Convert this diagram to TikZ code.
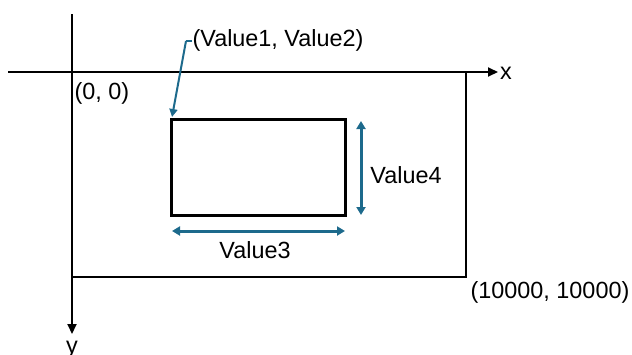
\documentclass[tikz,border=0pt]{standalone}
\usepackage{fontspec}
\setmainfont{Liberation Sans}
\usetikzlibrary{arrows.meta}
\definecolor{dimblue}{HTML}{1D6A8C}
\begin{document}
\begin{tikzpicture}[x=0.5pt,y=-0.5pt,
  lbl/.style={font=\fontsize{11.7}{14}\selectfont, inner sep=0pt},
  axisline/.style={line width=1pt,-{Triangle[length=5pt,width=4.5pt]}},
  dimline/.style={dimblue,line width=1.5pt,{Triangle[length=4pt,width=4.5pt]}-{Triangle[length=4pt,width=4.5pt]}},
  callout/.style={dimblue,line width=1pt},
  boxA/.style={draw,inner sep=0pt,outer sep=0pt}]
\useasboundingbox (0,0) rectangle (632,354);
% canvas
\node[boxA,line width=1pt,minimum width=197pt,minimum height=102.5pt] (canvas) at (269,174.5) {};
% axes
\coordinate (xs) at (8,72);
\coordinate (xe) at (498,72);
\coordinate (ys) at (72,14);
\coordinate (ye) at (72,334);
\draw[axisline] (xs) -- (xe);
\draw[axisline] (ys) -- (ye);
\node[lbl] (xl) at (506,73) {x};
\node[lbl,anchor=base] (yl) at (72,353) {y};
% labels
\node[lbl] (orig) at (102,93) {(0, 0)};
\node[lbl] (far) at (550,292) {(10000, 10000)};
% inner rectangle
\node[boxA,line width=1.5pt,minimum width=87pt,minimum height=48pt] (rect) at (258,167) {};
% dimensions
\coordinate (w1) at (172,231);
\coordinate (w2) at (345,231);
\coordinate (h1) at (361,121);
\coordinate (h2) at (361,215);
\draw[dimline] (w1) -- (w2);
\draw[dimline] (h1) -- (h2);
\node[lbl] (v3) at (255,250) {Value3};
\node[lbl] (v4) at (406,175) {Value4};
% callout
\node[lbl] (v12) at (278,40) {(Value1, Value2)};
\coordinate (c0) at (186,41);
\coordinate (c1) at (192,41);
\coordinate (ct) at (172,117);
\draw[callout] (c1) -- (c0);
\draw[callout,-{Triangle[length=4pt,width=4pt]}] (c0) -- (ct);
\end{tikzpicture}
\end{document}
